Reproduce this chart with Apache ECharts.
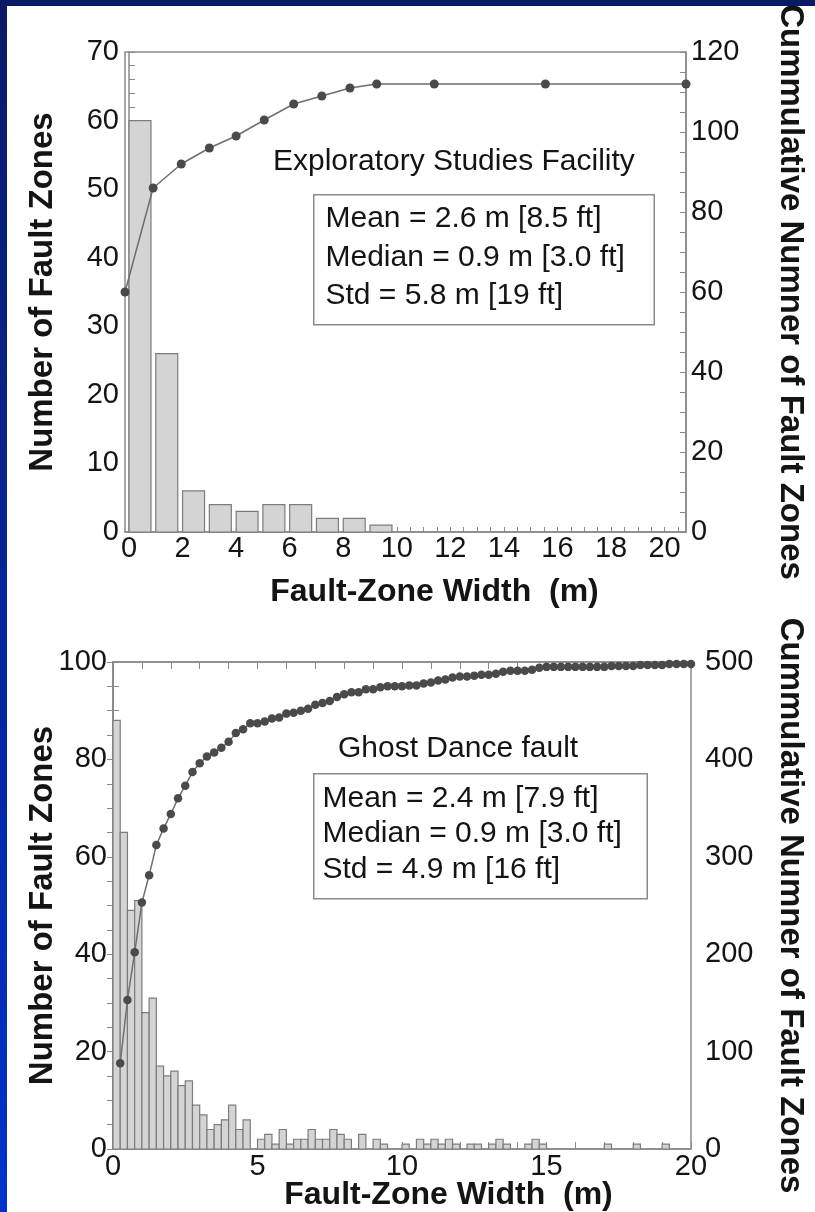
<!DOCTYPE html>
<html>
<head>
<meta charset="utf-8">
<title>Fault-zone width distributions</title>
<script src="https://cdn.jsdelivr.net/npm/echarts@6.0.0/dist/echarts.min.js"></script>
<style>
  html, body { margin: 0; padding: 0; background: #fff; }
  #chart { position: absolute; left: 0; top: 0; width: 815px; height: 1212px; }
  .frame-top { position: absolute; left: 0; top: 0; width: 815px; height: 6px; background: #0b1a66; z-index: 2; }
  .frame-left { position: absolute; left: 0; top: 0; width: 7px; height: 1212px; background: linear-gradient(#0b1a66, #0032cc); z-index: 2; }
</style>
</head>
<body>
<div id="chart"></div>
<div class="frame-top"></div>
<div class="frame-left"></div>
<script>
// ---- Exploratory Studies Facility (1 m bins) ----
const esfBinWidth = 1;
const esfBinStart = [0, 1, 2, 3, 4, 5, 6, 7, 8, 9];
const esfCounts = [60, 26, 6, 4, 3, 4, 4, 2, 2, 1];
const esfCumWidth = [-0.15, 0.9, 1.95, 3.0, 4.0, 5.05, 6.15, 7.2, 8.25, 9.25, 11.4, 15.55, 20.8];
const esfCumCount = [60, 86, 92, 96, 99, 103, 107, 109, 111, 112, 112, 112, 112];
const esfXLabels = [0, 2, 4, 6, 8, 10, 12, 14, 16, 18, 20];
const esfLeftLabels = [0, 10, 20, 30, 40, 50, 60, 70];
const esfRightLabels = [0, 20, 40, 60, 80, 100, 120];
const esfStats = ['Mean = 2.6 m [8.5 ft]', 'Median = 0.9 m [3.0 ft]', 'Std = 5.8 m [19 ft]'];

// ---- Ghost Dance fault (0.25 m bins) ----
const ghostBinWidth = 0.25;
const ghostCounts = [
  88, 65, 49, 51, 28, 31, 17, 15, 16, 13, 14, 9, 7, 4, 5, 6, 9, 4, 6, 0,
  2, 3, 1, 4, 1, 2, 2, 4, 2, 2, 4, 3, 2, 0, 3, 0, 2, 1, 0, 0,
  1, 0, 2, 1, 2, 1, 2, 1, 0, 1, 1, 0, 1, 2, 1, 0, 0, 1, 2, 1,
  0, 0, 0, 0, 0, 0, 0, 0, 1, 0, 0, 0, 1, 0, 0, 0, 1, 0, 0, 0
];
const ghostCum = [
  88, 153, 202, 253, 281, 312, 329, 344, 360, 373, 387, 396, 403, 407, 412, 418, 427, 431, 437, 437,
  439, 442, 443, 447, 448, 450, 452, 456, 458, 460, 464, 467, 469, 469, 472, 472, 474, 475, 475, 475,
  476, 476, 478, 479, 481, 482, 484, 485, 485, 486, 487, 487, 488, 490, 491, 491, 491, 492, 494, 495,
  495, 495, 495, 495, 495, 495, 495, 495, 496, 496, 496, 496, 497, 497, 497, 497, 498, 498, 498, 498
];
const ghostXLabels = [0, 5, 10, 15, 20];
const ghostLeftLabels = [0, 20, 40, 60, 80, 100];
const ghostRightLabels = [0, 100, 200, 300, 400, 500];
const ghostStats = ['Mean = 2.4 m [7.9 ft]', 'Median = 0.9 m [3.0 ft]', 'Std = 4.9 m [16 ft]'];

const FONT = 'Liberation Sans, Arial, Helvetica, sans-serif';
const ink = '#141414';
const axisGray = '#8a8a8a';
const barFill = '#d4d4d4';
const barEdge = '#7c7c7c';
const dotColor = '#4a4a4a';
const lineColor = '#6e6e6e';

const labelStyle = { fontSize: 29, color: ink, fontFamily: FONT };
const nameStyle = { fontSize: 33, fontWeight: 'bold', color: ink, fontFamily: FONT };
const lineStyleAxis = { color: axisGray, width: 1.5 };

const last = (a) => a[a.length - 1];

// minor tick positions on the upper x axis (every 0.5 m)
const esfTickValues = [];
for (let v = 0; v <= 20.5; v += 0.5) esfTickValues.push(v);

function histogramBar(drawnFraction) {
  return function (params, api) {
    const count = api.value(2);
    if (!count) return null;
    const x0 = api.value(0);
    const x1 = x0 + (api.value(1) - x0) * drawnFraction;
    const topLeft = api.coord([x0, count]);
    const bottomRight = api.coord([x1, 0]);
    return {
      type: 'rect',
      shape: {
        x: topLeft[0],
        y: topLeft[1],
        width: bottomRight[0] - topLeft[0],
        height: bottomRight[1] - topLeft[1]
      },
      style: { fill: barFill, stroke: barEdge, lineWidth: 1.2 }
    };
  };
}

function yAxis(gridIndex, labels, splitNumber, position, margin, name, nameGap, nameRotate) {
  return {
    type: 'value',
    gridIndex: gridIndex,
    position: position,
    min: labels[0],
    max: last(labels),
    interval: labels[1] - labels[0],
    axisLine: { show: true, lineStyle: lineStyleAxis },
    axisTick: { show: true, inside: true, length: 6, lineStyle: { color: axisGray } },
    minorTick: { show: true, splitNumber: splitNumber, length: 6, lineStyle: { color: axisGray } },
    axisLabel: Object.assign({ margin: margin }, labelStyle),
    splitLine: { show: false },
    name: name,
    nameLocation: 'middle',
    nameGap: nameGap,
    nameRotate: nameRotate,
    nameMoveOverlap: false,
    nameTextStyle: nameStyle
  };
}

function xName(shift) {
  return Object.assign({}, nameStyle, { fontSize: 32, padding: [0, 0, 0, shift] });
}

const chart = echarts.init(document.getElementById('chart'));

const option = {
  backgroundColor: '#ffffff',
  animation: false,
  grid: [
    { left: 125, top: 52, width: 568, height: 480, show: true, borderColor: axisGray, borderWidth: 1.5 },
    { left: 113, top: 662, width: 585, height: 488, show: true, borderColor: axisGray, borderWidth: 1.5 }
  ],
  xAxis: [
    {
      type: 'value',
      gridIndex: 0,
      min: -0.15,
      max: 20.8,
      axisLine: { show: true, onZero: false, lineStyle: lineStyleAxis },
      axisTick: { show: true, inside: true, length: 5, customValues: esfTickValues, lineStyle: { color: axisGray } },
      axisLabel: Object.assign({ margin: 2, customValues: esfXLabels }, labelStyle),
      splitLine: { show: false },
      name: 'Fault-Zone Width  (m)',
      nameLocation: 'middle',
      nameGap: 44,
      nameMoveOverlap: false,
      nameTextStyle: xName(58)
    },
    {
      type: 'value',
      gridIndex: 1,
      min: ghostXLabels[0],
      max: last(ghostXLabels),
      interval: ghostXLabels[1] - ghostXLabels[0],
      axisLine: { show: true, onZero: false, lineStyle: lineStyleAxis },
      axisTick: { show: true, inside: true, length: 7, lineStyle: { color: axisGray } },
      minorTick: { show: true, splitNumber: 5, length: 7, lineStyle: { color: axisGray } },
      axisLabel: Object.assign({ margin: 3 }, labelStyle),
      splitLine: { show: false },
      name: 'Fault-Zone Width  (m)',
      nameLocation: 'middle',
      nameGap: 30,
      nameMoveOverlap: false,
      nameTextStyle: xName(93)
    },
    {
      type: 'value',
      gridIndex: 1,
      position: 'top',
      min: ghostXLabels[0],
      max: last(ghostXLabels),
      interval: ghostXLabels[1] - ghostXLabels[0],
      axisLine: { show: true, onZero: false, lineStyle: lineStyleAxis },
      axisTick: { show: true, inside: true, length: 7, lineStyle: { color: axisGray } },
      minorTick: { show: true, splitNumber: 5, length: 7, lineStyle: { color: axisGray } },
      axisLabel: { show: false },
      splitLine: { show: false }
    }
  ],
  yAxis: [
    yAxis(0, esfLeftLabels, 5, 'left', 6, 'Number of Fault Zones', 66, 90),
    yAxis(0, esfRightLabels, 4, 'right', 5, 'Cummulative Numner of Fault Zones', 88, -90),
    yAxis(1, ghostLeftLabels, 4, 'left', 6, 'Number of Fault Zones', 54, 90),
    yAxis(1, ghostRightLabels, 4, 'right', 14, 'Cummulative Numner of Fault Zones', 83, -90)
  ],
  series: [
    {
      type: 'custom',
      xAxisIndex: 0,
      yAxisIndex: 0,
      renderItem: histogramBar(0.82),
      encode: { x: [0, 1], y: 2 },
      data: esfBinStart.map((s, i) => [s, s + esfBinWidth, esfCounts[i]])
    },
    {
      type: 'line',
      xAxisIndex: 0,
      yAxisIndex: 1,
      clip: false,
      symbol: 'circle',
      symbolSize: 9,
      itemStyle: { color: dotColor },
      lineStyle: { color: lineColor, width: 1.5 },
      data: esfCumWidth.map((w, i) => [w, esfCumCount[i]]),
      z: 3
    },
    {
      type: 'custom',
      xAxisIndex: 1,
      yAxisIndex: 2,
      renderItem: histogramBar(1),
      encode: { x: [0, 1], y: 2 },
      data: ghostCounts.map((c, i) => [i * ghostBinWidth, (i + 1) * ghostBinWidth, c])
    },
    {
      type: 'line',
      xAxisIndex: 1,
      yAxisIndex: 3,
      clip: false,
      symbol: 'circle',
      symbolSize: 8.5,
      itemStyle: { color: dotColor },
      lineStyle: { color: lineColor, width: 1.5 },
      data: ghostCum.map((c, i) => [(i + 1) * ghostBinWidth, c]),
      z: 3
    }
  ],
  graphic: [
    {
      type: 'text', left: 273, top: 147,
      style: { text: 'Exploratory Studies Facility', fontSize: 30, fontFamily: FONT, fill: ink }
    },
    {
      type: 'text', left: 313, top: 194,
      style: {
        text: esfStats.join('\n'), fontSize: 30, fontFamily: FONT, fill: ink,
        lineHeight: 38.5, width: 318, padding: [4, 10, 9, 11],
        borderColor: axisGray, borderWidth: 1.5, backgroundColor: '#ffffff'
      }
    },
    {
      type: 'text', left: 338, top: 734,
      style: { text: 'Ghost Dance fault', fontSize: 30, fontFamily: FONT, fill: ink }
    },
    {
      type: 'text', left: 313, top: 773,
      style: {
        text: ghostStats.join('\n'), fontSize: 30, fontFamily: FONT, fill: ink,
        lineHeight: 35.5, width: 314, padding: [6, 10, 11, 8],
        borderColor: axisGray, borderWidth: 1.5, backgroundColor: '#ffffff'
      }
    }
  ]
};

chart.setOption(option);
</script>
</body>
</html>
